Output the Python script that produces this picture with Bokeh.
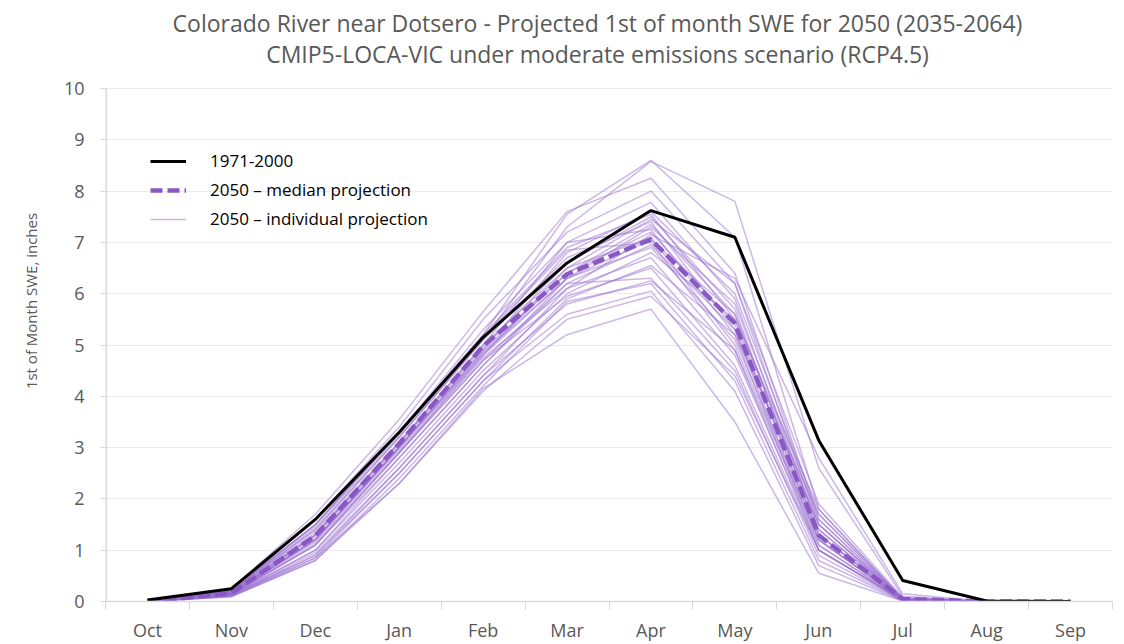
from bokeh.plotting import figure
from bokeh.models import (Range1d, FixedTicker, Label, Legend, LegendItem)
from bokeh.embed import file_html
from bokeh.resources import INLINE

months = ["Oct", "Nov", "Dec", "Jan", "Feb", "Mar", "Apr", "May", "Jun", "Jul", "Aug", "Sep"]

hist_1971_2000 = [0.03, 0.25, 1.6, 3.3, 5.15, 6.6, 7.62, 7.1, 3.14, 0.41, 0.01, 0.0]
median_2050 = [0.0, 0.16, 1.28, 3.08, 4.98, 6.38, 7.06, 5.42, 1.29, 0.05, 0.0, 0.0]

individual_2050 = [
    [0.01, 0.22, 1.50, 3.30, 5.20, 7.55, 8.60, 7.10, 1.80, 0.05, 0, 0],
    [0.02, 0.20, 1.40, 3.20, 5.10, 7.30, 8.58, 7.80, 2.60, 0.10, 0, 0],
    [0.01, 0.25, 1.70, 3.55, 5.65, 7.60, 8.25, 6.40, 1.60, 0.05, 0, 0],
    [0.01, 0.20, 1.60, 3.40, 5.50, 7.20, 8.00, 6.20, 1.50, 0.04, 0, 0],
    [0.00, 0.18, 1.30, 3.10, 5.00, 7.00, 7.78, 5.90, 1.40, 0.03, 0, 0],
    [0.00, 0.15, 1.20, 3.00, 4.90, 6.80, 7.60, 6.00, 1.70, 0.06, 0, 0],
    [0.01, 0.20, 1.50, 3.30, 5.20, 6.90, 7.55, 5.50, 1.20, 0.03, 0, 0],
    [0.00, 0.16, 1.30, 3.10, 4.95, 6.60, 7.50, 5.70, 1.30, 0.04, 0, 0],
    [0.00, 0.14, 1.10, 2.90, 4.80, 6.50, 7.45, 6.20, 1.90, 0.08, 0, 0],
    [0.01, 0.19, 1.40, 3.20, 5.10, 6.70, 7.40, 5.30, 1.10, 0.02, 0, 0],
    [0.00, 0.17, 1.20, 3.00, 4.85, 6.40, 7.35, 5.60, 1.50, 0.05, 0, 0],
    [0.00, 0.13, 1.00, 2.80, 4.60, 6.30, 7.30, 5.80, 1.60, 0.05, 0, 0],
    [0.01, 0.21, 1.50, 3.30, 5.30, 7.00, 7.25, 5.20, 1.00, 0.02, 0, 0],
    [0.00, 0.16, 1.30, 3.05, 4.90, 6.40, 7.20, 5.40, 1.30, 0.04, 0, 0],
    [0.00, 0.12, 0.90, 2.60, 4.40, 6.10, 7.15, 6.30, 2.80, 0.15, 0, 0],
    [0.00, 0.18, 1.35, 3.10, 5.00, 6.50, 7.10, 5.00, 1.20, 0.03, 0, 0],
    [0.00, 0.15, 1.20, 3.00, 4.80, 6.30, 7.05, 5.60, 1.40, 0.05, 0, 0],
    [0.01, 0.20, 1.45, 3.25, 5.15, 6.85, 7.00, 4.90, 1.00, 0.02, 0, 0],
    [0.00, 0.14, 1.10, 2.90, 4.70, 6.20, 6.95, 5.30, 1.50, 0.04, 0, 0],
    [0.00, 0.17, 1.25, 3.00, 4.85, 6.30, 6.90, 5.10, 1.30, 0.03, 0, 0],
    [0.00, 0.13, 1.00, 2.70, 4.50, 6.00, 6.80, 5.50, 1.80, 0.06, 0, 0],
    [0.00, 0.16, 1.20, 2.95, 4.75, 6.10, 6.70, 4.80, 1.10, 0.03, 0, 0],
    [0.00, 0.11, 0.85, 2.50, 4.30, 5.90, 6.55, 5.20, 1.70, 0.05, 0, 0],
    [0.00, 0.15, 1.15, 2.90, 4.70, 5.95, 6.50, 4.60, 1.00, 0.02, 0, 0],
    [0.00, 0.14, 1.10, 2.80, 4.60, 6.20, 6.30, 4.50, 0.90, 0.02, 0, 0],
    [0.00, 0.12, 0.95, 2.60, 4.40, 5.80, 6.25, 4.90, 1.20, 0.04, 0, 0],
    [0.00, 0.10, 0.80, 2.40, 4.20, 5.85, 6.20, 4.30, 0.80, 0.02, 0, 0],
    [0.00, 0.12, 0.90, 2.50, 4.30, 5.60, 6.05, 4.10, 0.70, 0.01, 0, 0],
    [0.00, 0.10, 0.85, 2.30, 4.10, 5.50, 5.95, 4.40, 1.00, 0.03, 0, 0],
    [0.00, 0.09, 0.80, 2.30, 4.15, 5.20, 5.70, 3.50, 0.55, 0.01, 0, 0],
]

y_ticks = [0, 1, 2, 3, 4, 5, 6, 7, 8, 9, 10]

title_line1 = "Colorado River near Dotsero - Projected 1st of month SWE for 2050 (2035-2064)"
title_line2 = "CMIP5-LOCA-VIC under moderate emissions scenario (RCP4.5)"
y_label = "1st of Month SWE, inches"
legend_labels = ["1971-2000", "2050 \u2013 median projection", "2050 \u2013 individual projection"]

FONT = "Open Sans"
GREY = "#595959"
AXIS_GREY = "#d9d9d9"

W, H = 1124, 644
BORDER_BOTTOM = 43
AXIS_PX = 513          # pixel height spanned by 0..10 on the y axis
FRAME_H = H - BORDER_BOTTOM
y_top = y_ticks[-1] * FRAME_H / AXIS_PX   # frame extends up to hold the title

# month centre positions on a numeric axis (one unit per month)
xc = [i + 0.5 for i in range(len(months))]

p = figure(width=W, height=H, output_backend="svg", toolbar_location=None,
           x_range=Range1d(0, len(months)), y_range=Range1d(0, y_top),
           min_border_left=105, min_border_right=12, min_border_top=0,
           min_border_bottom=BORDER_BOTTOM)
p.outline_line_color = None
p.background_fill_color = "white"
p.border_fill_color = "white"
p.title = None

# two-line title, placed in screen px relative to the plot frame
for txt, dy in [(title_line1, 22), (title_line2, 53)]:
    p.add_layout(Label(x=492, y=FRAME_H - dy, x_units="screen", y_units="screen",
                       text=txt, text_align="center", text_baseline="middle",
                       text_font=FONT, text_font_size="23px", text_color=GREY))

# vertical axis line spanning 0..10 only
p.segment(x0=[0], y0=[y_ticks[0]], x1=[0], y1=[y_ticks[-1]],
          line_color=AXIS_GREY, line_width=3)

# individual projections
r_ind = p.multi_line(xs=[xc] * len(individual_2050), ys=individual_2050,
                     line_color="#9a6fd0", line_alpha=0.5, line_width=1.5)
# median
r_med = p.line(xc, median_2050, line_color="#8a58c4", line_width=4.5, line_dash="12 5")
# historical
r_hist = p.line(xc, hist_1971_2000, line_color="black", line_width=3)

# axes
xa = p.xaxis[0]
xa.ticker = FixedTicker(ticks=xc, minor_ticks=list(range(len(months) + 1)))
xa.major_label_overrides = {x: m for x, m in zip(xc, months)}
xa.major_tick_line_color = None
xa.minor_tick_line_color = AXIS_GREY
xa.minor_tick_out = 8
xa.minor_tick_in = 0
xa.axis_line_color = AXIS_GREY
xa.axis_line_width = 1.5
xa.major_label_text_font = FONT
xa.major_label_text_font_size = "18px"
xa.major_label_text_color = GREY
xa.major_label_standoff = 8

ya = p.yaxis[0]
ya.ticker = FixedTicker(ticks=y_ticks, minor_ticks=[])
ya.major_tick_line_color = AXIS_GREY
ya.major_tick_out = 5
ya.major_tick_in = 0
ya.axis_line_color = None
ya.major_label_text_font = FONT
ya.major_label_text_font_size = "18px"
ya.major_label_text_color = GREY
ya.major_label_standoff = 16
ya.axis_label = y_label
ya.axis_label_text_font = FONT
ya.axis_label_text_font_size = "15px"
ya.axis_label_text_font_style = "normal"
ya.axis_label_text_color = GREY
ya.axis_label_standoff = 20

p.xgrid.grid_line_color = None
p.ygrid.grid_line_color = "#ebebeb"
p.ygrid.grid_line_width = 1

legend = Legend(items=[
    LegendItem(label=legend_labels[0], renderers=[r_hist]),
    LegendItem(label=legend_labels[1], renderers=[r_med]),
    LegendItem(label=legend_labels[2], renderers=[r_ind]),
], location=(45, 371), border_line_color=None, background_fill_alpha=0,
    padding=0, margin=0, spacing=6, glyph_width=36, glyph_height=20, label_height=20,
    label_standoff=24, label_text_font=FONT, label_text_font_size="17px",
    label_text_color="black")
p.add_layout(legend, "center")

open("out.html", "w").write(file_html(p, INLINE))
